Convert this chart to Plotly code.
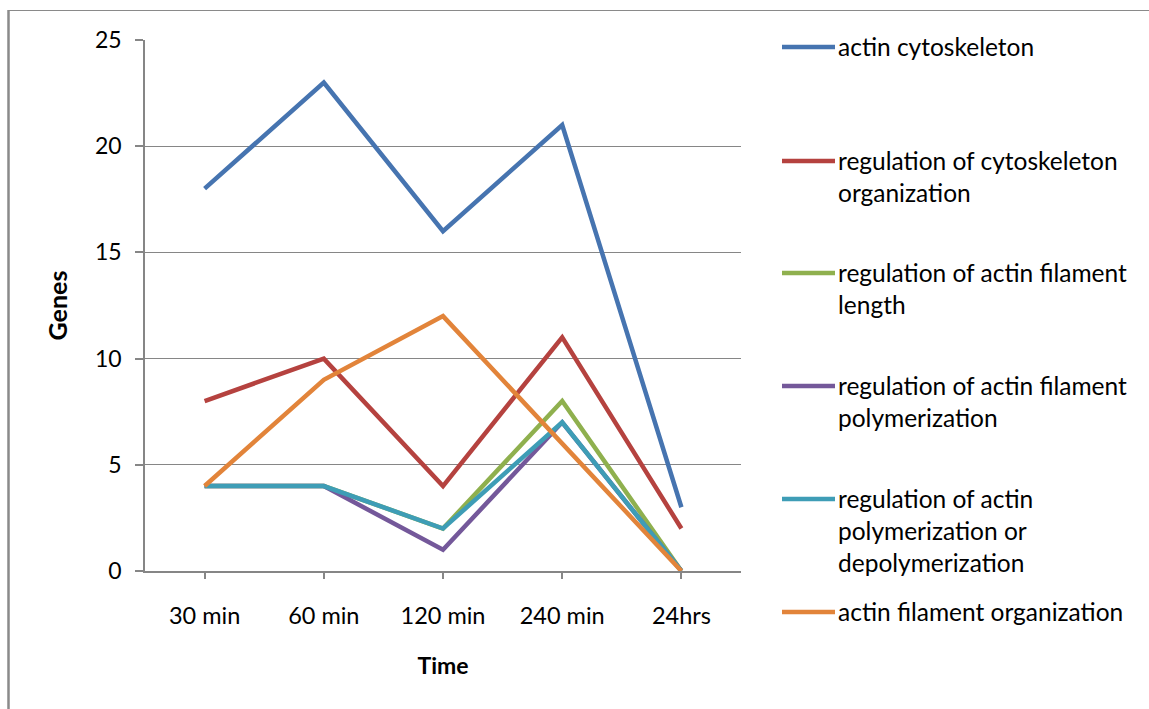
import plotly.graph_objects as go

categories = ["30 min", "60 min", "120 min", "240 min", "24hrs"]
series_names = [
    "actin cytoskeleton",
    "regulation of cytoskeleton<br>organization",
    "regulation of actin filament<br>length",
    "regulation of actin filament<br>polymerization",
    "regulation of actin<br>polymerization or<br>depolymerization",
    "actin filament organization",
]
actin_cytoskeleton = [18, 23, 16, 21, 3]
reg_cytoskeleton_org = [8, 10, 4, 11, 2]
reg_filament_length = [4, 4, 2, 8, 0]
reg_filament_polym = [4, 4, 1, 7, 0]
reg_polym_depolym = [4, 4, 2, 7, 0]
actin_filament_org = [4, 9, 12, 6, 0]
series_values = [actin_cytoskeleton, reg_cytoskeleton_org, reg_filament_length,
                 reg_filament_polym, reg_polym_depolym, actin_filament_org]
colors = ["#4674B0", "#B5423F", "#8FB04E", "#74589A", "#3E9DB6", "#E2843A"]
y_ticks = [0, 5, 10, 15, 20, 25]

W, H = 1149, 709
L, R, T, B = 145, 741, 40, 571
FONT = "Lato"

fig = go.Figure()
for name, vals, c in zip(series_names, series_values, colors):
    fig.add_trace(go.Scatter(x=categories, y=vals, mode="lines", name=name,
                             line=dict(color=c, width=4.5), showlegend=False))

def px_x(x):
    return (x - L) / (R - L)

def px_y(y):
    return (B - y) / (B - T)

shapes = []
annotations = []
# outer chart border (top and left)
shapes.append(dict(type="line", xref="paper", yref="paper", x0=px_x(8), x1=px_x(W + 5),
                   y0=px_y(10.5), y1=px_y(10.5), line=dict(color="#8A8A8A", width=1)))
shapes.append(dict(type="line", xref="paper", yref="paper", x0=px_x(8.5), x1=px_x(8.5),
                   y0=px_y(10), y1=px_y(H + 5), line=dict(color="#8A8A8A", width=2.5)))

# manual legend
legend_first_line = [47, 161, 273, 386, 499, 612]
for name, c, yc in zip(series_names, colors, legend_first_line):
    shapes.append(dict(type="line", xref="paper", yref="paper", x0=px_x(782), x1=px_x(835),
                       y0=px_y(yc), y1=px_y(yc), line=dict(color=c, width=4.5)))
    annotations.append(dict(xref="paper", yref="paper", x=px_x(836), y=px_y(yc - 17),
                            xanchor="left", yanchor="top", align="left", showarrow=False,
                            text=name, font=dict(family=FONT, size=24.5, color="#000000")))

fig.update_layout(
    width=W, height=H,
    margin=dict(l=L, r=W - R, t=T, b=H - B),
    paper_bgcolor="white", plot_bgcolor="white",
    font=dict(family=FONT, size=23, color="#000000"),
    shapes=shapes, annotations=annotations,
    xaxis=dict(
        type="category", range=[-0.5, 4.5],
        showline=True, linecolor="#868686", linewidth=1.5,
        ticks="outside", ticklen=6, tickcolor="#868686", tickwidth=1.5,
        showgrid=False, zeroline=False,
        tickfont=dict(family=FONT, size=23.5), ticklabelstandoff=17,
        title=dict(text="<b>Time</b>", font=dict(family=FONT, size=23), standoff=30),
    ),
    yaxis=dict(
        range=[0, 25], tickvals=y_ticks,
        showline=True, linecolor="#868686", linewidth=1.5,
        ticks="outside", ticklen=8, tickcolor="#868686", tickwidth=1.5,
        showgrid=True, gridcolor="#868686", gridwidth=1.2, zeroline=False,
        tickfont=dict(family=FONT, size=23), ticklabelstandoff=9,
        title=dict(text="<b>Genes</b>", font=dict(family=FONT, size=25), standoff=20),
    ),
)

fig.write_html("out.html")
